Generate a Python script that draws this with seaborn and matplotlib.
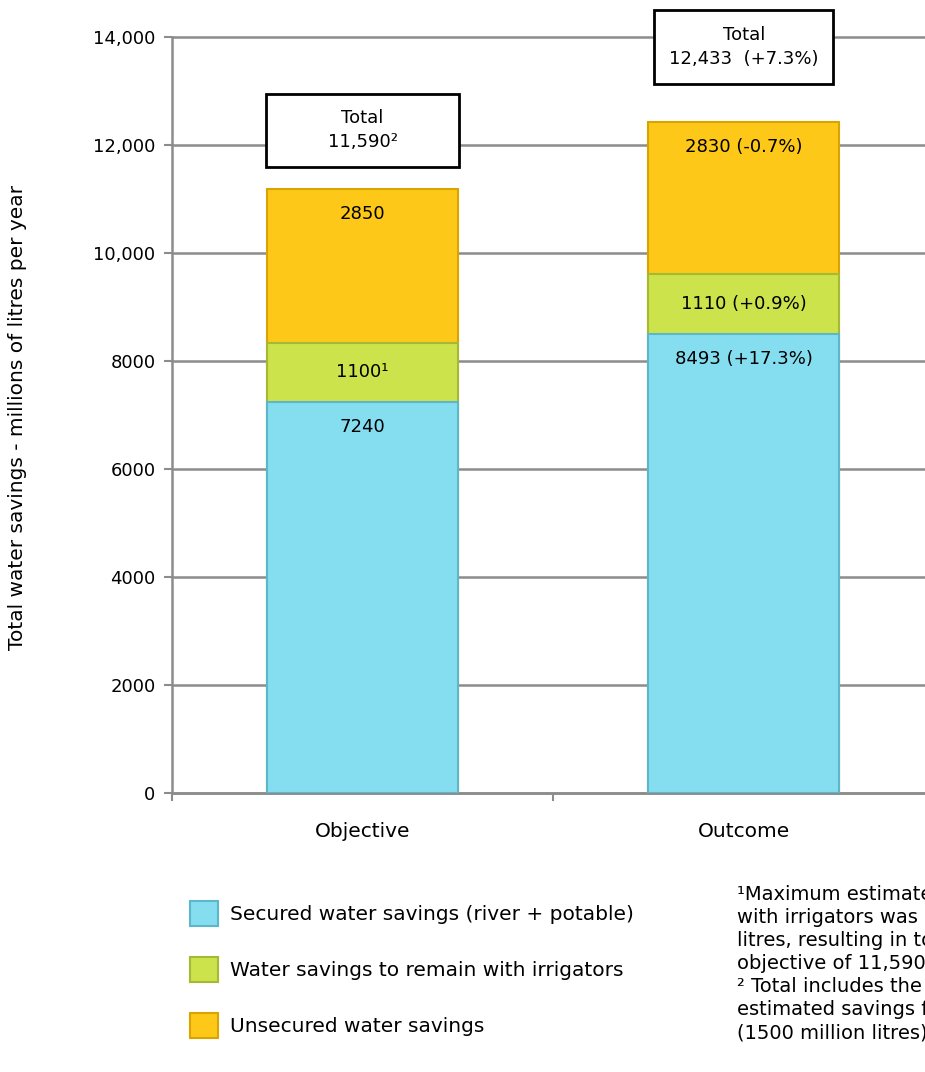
import pandas as pd
import seaborn as sns
import matplotlib.pyplot as plt
from matplotlib.patches import Patch, Rectangle

# chart values
categories = ['Objective', 'Outcome']
secured = [7240, 8493]
irrigators = [1100, 1110]
unsecured = [2850, 2830]
secured_labels = ['7240', '8493 (+17.3%)']
irrigator_labels = ['1100\u00b9', '1110 (+0.9%)']
unsecured_labels = ['2850', '2830 (-0.7%)']
total_labels = ['Total\n11,590\u00b2', 'Total\n12,433  (+7.3%)']
series_names = ['Secured water savings (river + potable)',
                'Water savings to remain with irrigators',
                'Unsecured water savings']
ytick_values = [0, 2000, 4000, 6000, 8000, 10000, 12000, 14000]
ytick_labels = ['0', '2000', '4000', '6000', '8000', '10,000', '12,000', '14,000']
footnote_lines = ['\u00b9Maximum estimated savings to remain',
                  'with irrigators was revised to 1100 million',
                  'litres, resulting in total water savings',
                  'objective of 11,590 million litres.',
                  '\u00b2 Total includes the Melbourne Water',
                  'estimated savings from the project',
                  '(1500 million litres).']

colors = {'secured': '#84DEF0', 'irrigators': '#CDE34B', 'unsecured': '#FDC817'}
edges = {'secured': '#5DB6CA', 'irrigators': '#A6B935', 'unsecured': '#D9A300'}

sns.set_style('white')
plt.rcParams['font.family'] = ['DejaVu Sans']
plt.rcParams['text.color'] = 'black'
plt.rcParams['axes.labelcolor'] = 'black'
plt.rcParams['xtick.color'] = 'black'
plt.rcParams['ytick.color'] = 'black'

df = pd.DataFrame({'category': categories, 'secured': secured,
                   'irrigators': irrigators, 'unsecured': unsecured})
df['green_top'] = df['secured'] + df['irrigators']
df['total'] = df['green_top'] + df['unsecured']

fig = plt.figure(figsize=(9.25, 10.72), dpi=100)
ax = fig.add_axes([0.186, 0.2603, 0.824, 0.7052])

# stacked bars drawn as overlapping cumulative bars
for col, key in [('total', 'unsecured'), ('green_top', 'irrigators'), ('secured', 'secured')]:
    sns.barplot(data=df, x='category', y=col, color=colors[key], saturation=1,
                width=0.5, edgecolor=edges[key], linewidth=1.5, errorbar=None,
                ax=ax, zorder=3)

# segment labels
for i in range(len(categories)):
    ax.annotate(unsecured_labels[i], xy=(i, df['total'][i]), xytext=(0, -18),
                textcoords='offset points', ha='center', va='center', fontsize=13, zorder=5)
    ax.annotate(irrigator_labels[i], xy=(i, df['secured'][i] + df['irrigators'][i] / 2),
                ha='center', va='center', fontsize=13, zorder=5)
    ax.annotate(secured_labels[i], xy=(i, df['secured'][i]), xytext=(0, -18),
                textcoords='offset points', ha='center', va='center', fontsize=13, zorder=5)

# total boxes above the bars
box_bottom = [11600, 13130]
box_height = [1350, 1370]
box_width = [0.505, 0.47]
for i in range(len(categories)):
    ax.add_patch(Rectangle((i - box_width[i] / 2, box_bottom[i]), box_width[i], box_height[i],
                           facecolor='white', edgecolor='black', linewidth=2,
                           clip_on=False, zorder=6))
    ax.text(i, box_bottom[i] + box_height[i] / 2, total_labels[i], ha='center', va='center',
            fontsize=13, linespacing=1.45, zorder=7, clip_on=False)

ax.set_xlim(-0.5, 1.5)
ax.set_ylim(0, 14000)
ax.set_yticks(ytick_values, ytick_labels)
ax.tick_params(axis='y', length=6, width=1.5, color='#8c8c8c', labelsize=13, pad=6, left=True)
ax.yaxis.grid(True, color='#8c8c8c', linewidth=1.8, zorder=0)
for gl in ax.yaxis.get_gridlines():
    gl.set_clip_on(False)
ax.set_axisbelow(True)

ax.set_xticks([-0.5, 0.5, 1.5], ['', '', ''])
ax.set_xticks([0, 1], categories, minor=True)
ax.tick_params(axis='x', which='major', length=6, width=1.5, color='#8c8c8c', bottom=True)
ax.tick_params(axis='x', which='minor', length=0, labelsize=14.5, pad=21)
ax.set_xlabel('')

for side in ['top', 'right']:
    ax.spines[side].set_visible(False)
for side in ['left', 'bottom']:
    ax.spines[side].set_color('#8c8c8c')
    ax.spines[side].set_linewidth(1.8)

ax.set_ylabel('Total water savings - millions of litres per year', fontsize=14.5)
ax.yaxis.set_label_coords(-0.19, 0.497)

handles = [Patch(facecolor=colors[k], edgecolor=edges[k], linewidth=1.5)
           for k in ['secured', 'irrigators', 'unsecured']]
fig.legend(handles, series_names, loc='upper left', bbox_to_anchor=(0.186, 0.176),
           frameon=False, fontsize=14.5, handlelength=1.4, handleheight=1.5,
           labelspacing=1.55, handletextpad=0.6)

fig.text(737 / 925, 1 - 885 / 1072, '\n'.join(footnote_lines), ha='left', va='top',
         fontsize=14, linespacing=1.27)

plt.savefig('out.png', dpi=100)
plt.close()
